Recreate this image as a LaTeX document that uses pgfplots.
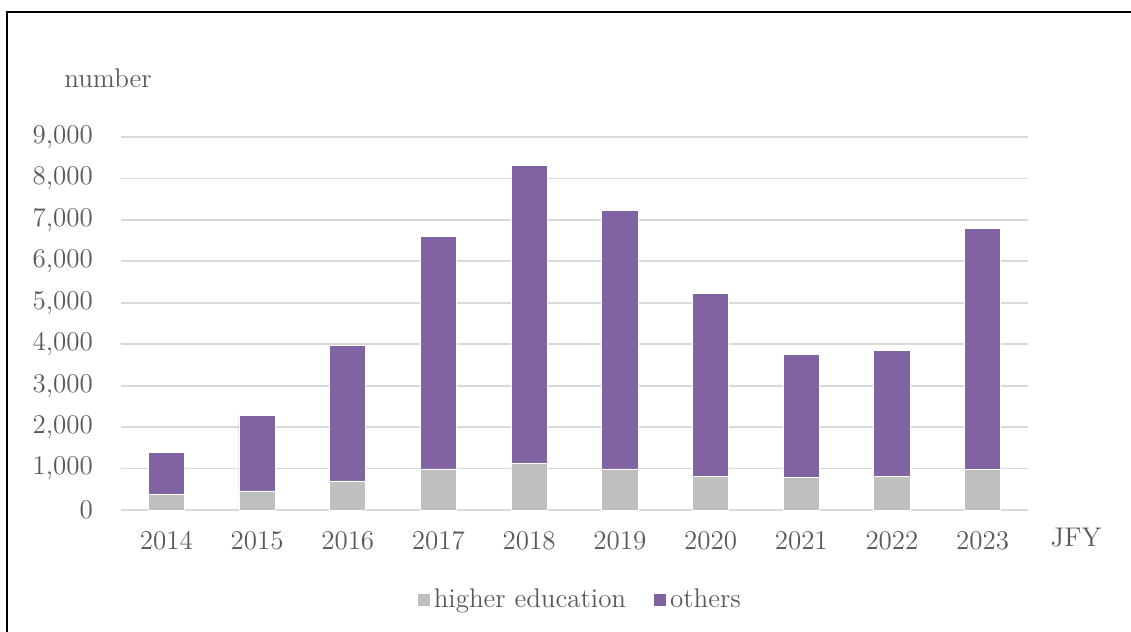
\documentclass[border=0pt]{standalone}
\usepackage{pgfplots}
\pgfplotsset{compat=1.18}
\definecolor{pur}{HTML}{8064A2}
\definecolor{gry}{HTML}{BFBFBF}
\definecolor{gridc}{HTML}{D9D9D9}
\definecolor{txt}{HTML}{595959}
\newcommand{\fs}{\fontsize{13.5}{16}\selectfont}
\begin{document}
\begin{tikzpicture}
\path[use as bounding box] (0pt,0pt) rectangle (565.5pt,-316pt);
\draw[black, line width=1pt] (3.5pt,-320pt) -- (3.5pt,-6pt) -- (570pt,-6pt);
\begin{axis}[
  at={(60.5pt,-255pt)}, anchor=south west,
  scale only axis, width=453.5pt, height=186.5pt,
  ybar stacked, bar width=0.4,
  xmin=-0.5, xmax=9.5, ymin=0, ymax=9000,
  xtick={0,...,9},
  xticklabels={2014,2015,2016,2017,2018,2019,2020,2021,2022,2023},
  ytick={0,1000,...,9000},
  scaled y ticks=false,
  /pgf/number format/.cd, 1000 sep={,}, assume math mode=true, /pgfplots/.cd,
  axis line style={draw=none},
  major tick length=0pt,
  ymajorgrids=true, xmajorgrids=false,
  major grid style={draw=gridc, line width=0.9pt},
  xticklabel style={font=\fs, text=txt, yshift=-7pt},
  yticklabel style={font=\fs, text=txt, xshift=-10.5pt},
  legend columns=2,
  legend style={at={(0.5075,-0.241)}, anchor=center, draw=none, font=\fs, text=txt,
    /tikz/every even column/.append style={column sep=12pt}},
  legend cell align=left,
  legend image code/.code={\fill[#1,draw=none] (0pt,-3pt) rectangle (6pt,3pt);},
  clip=false,
]
\addplot[fill=gry, draw=white, line width=0.4pt] coordinates {
 (0,380) (1,460) (2,700) (3,990) (4,1125) (5,990) (6,820) (7,780) (8,810) (9,970)};
\addplot[fill=pur, draw=white, line width=0.4pt] coordinates {
 (0,1010) (1,1830) (2,3260) (3,5600) (4,7185) (5,6230) (6,4400) (7,2970) (8,3030) (9,5830)};
\legend{higher education, others}
\end{axis}
\node[anchor=base, text=txt, font=\fs] at (538pt,-273pt) {JFY};
\node[anchor=base, text=txt, font=\fs] at (54pt,-43.5pt) {number};
\end{tikzpicture}
\end{document}
